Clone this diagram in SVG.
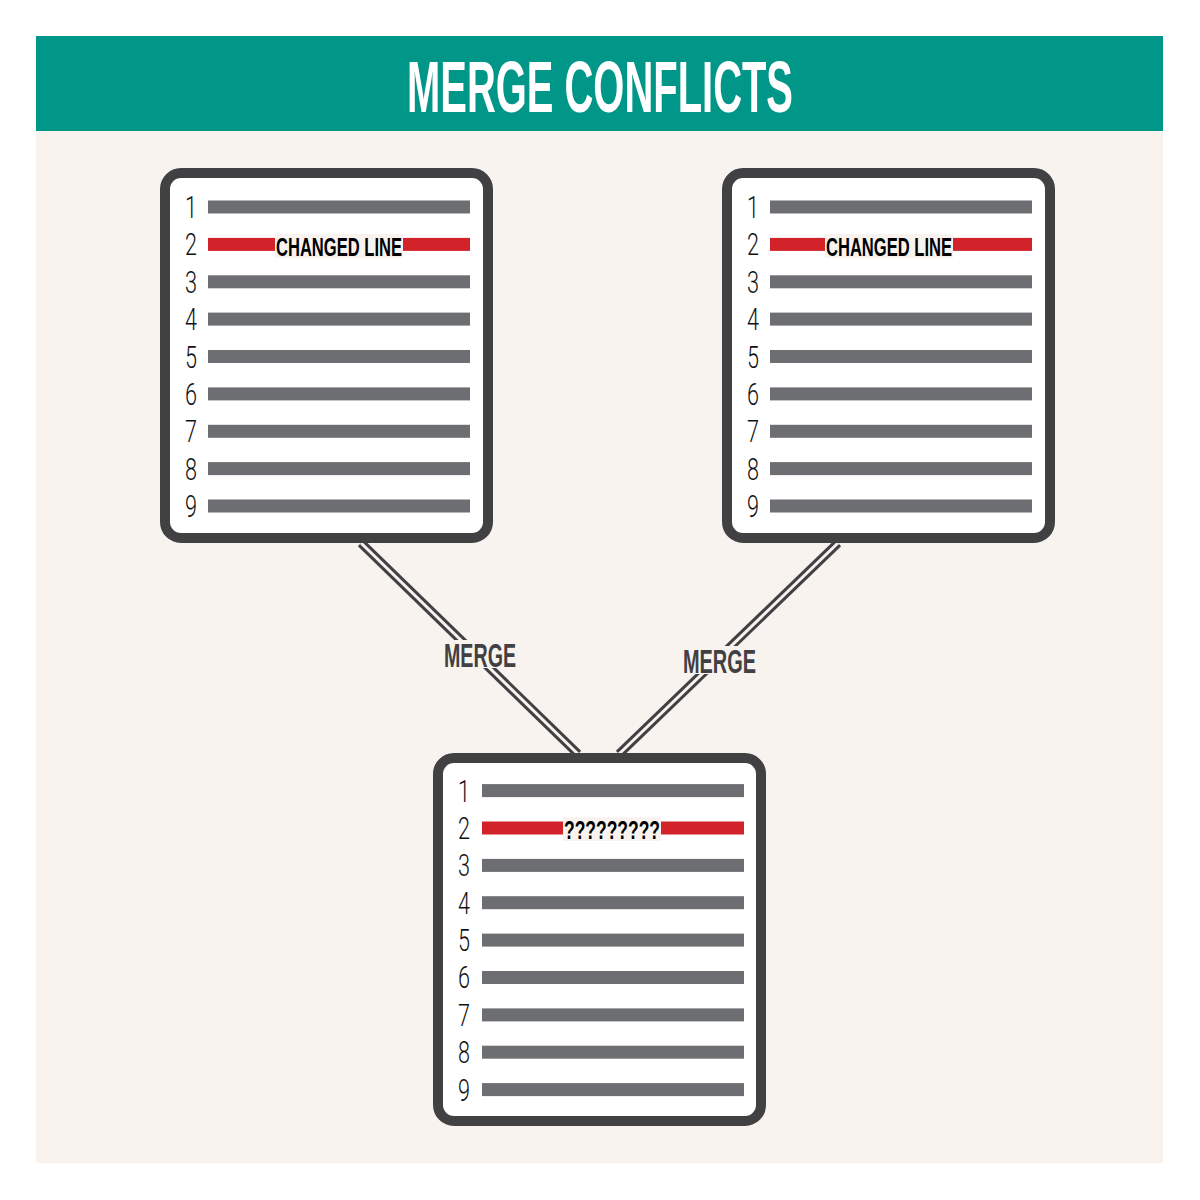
<svg xmlns="http://www.w3.org/2000/svg" width="1200" height="1200" viewBox="0 0 1200 1200">
<style>
.frame{fill:#ffffff;stroke:#414042;stroke-width:10}
.bar{fill:#6d6e71}
.red{fill:#d2232a}
.knock{fill:#f8f3ef}
.num{font-family:Roboto,"Liberation Sans",sans-serif;font-weight:300;font-size:32px;fill:#111;text-anchor:middle}
.lbl{font-family:"Liberation Sans",Arial,sans-serif;font-weight:bold;font-size:26px;fill:#000}
.merge{font-family:"Liberation Sans",Arial,sans-serif;font-weight:bold;font-size:34px;fill:#414042}
.wire-o{stroke:#414042;stroke-width:9;fill:none}
.wire-i{stroke:#f8f3ef;stroke-width:3;fill:none}
</style>
<defs>
<g id="rows">
<rect class="bar" x="0" y="-6.5" width="262" height="13"/>
<rect class="red" x="0" y="30.9" width="262" height="13"/>
<rect class="bar" x="0" y="68.3" width="262" height="13"/>
<rect class="bar" x="0" y="105.6" width="262" height="13"/>
<rect class="bar" x="0" y="143" width="262" height="13"/>
<rect class="bar" x="0" y="180.4" width="262" height="13"/>
<rect class="bar" x="0" y="217.8" width="262" height="13"/>
<rect class="bar" x="0" y="255.1" width="262" height="13"/>
<rect class="bar" x="0" y="292.5" width="262" height="13"/>
</g>
<g id="nums">
<text class="num" x="0" y="11" textLength="12" lengthAdjust="spacingAndGlyphs">1</text>
<text class="num" x="0" y="48.4" textLength="12" lengthAdjust="spacingAndGlyphs">2</text>
<text class="num" x="0" y="85.8" textLength="12" lengthAdjust="spacingAndGlyphs">3</text>
<text class="num" x="0" y="123.1" textLength="12" lengthAdjust="spacingAndGlyphs">4</text>
<text class="num" x="0" y="160.5" textLength="12" lengthAdjust="spacingAndGlyphs">5</text>
<text class="num" x="0" y="197.9" textLength="12" lengthAdjust="spacingAndGlyphs">6</text>
<text class="num" x="0" y="235.3" textLength="12" lengthAdjust="spacingAndGlyphs">7</text>
<text class="num" x="0" y="272.6" textLength="12" lengthAdjust="spacingAndGlyphs">8</text>
<text class="num" x="0" y="310" textLength="12" lengthAdjust="spacingAndGlyphs">9</text>
</g>
</defs>
<rect x="0" y="0" width="1200" height="1200" fill="#ffffff"/>
<rect x="36" y="131" width="1127" height="1032" fill="#f8f3ef"/>
<g id="header">
<rect x="36" y="36" width="1127" height="95" fill="#009688"/>
<text x="600" y="112" text-anchor="middle" font-family="'Liberation Sans',Arial,sans-serif" font-weight="bold" font-size="72" fill="#ffffff" textLength="386" lengthAdjust="spacingAndGlyphs">MERGE CONFLICTS</text>
</g>
<g id="connectors">
<line class="wire-o" x1="361" y1="543" x2="578" y2="754"/>
<line class="wire-i" x1="361" y1="543" x2="578" y2="754"/>
<line class="wire-o" x1="838" y1="543" x2="619" y2="754"/>
<line class="wire-i" x1="838" y1="543" x2="619" y2="754"/>
<rect class="knock" x="444" y="640" width="72" height="28"/>
<text class="merge" x="444" y="667" textLength="72" lengthAdjust="spacingAndGlyphs">MERGE</text>
<rect class="knock" x="686" y="646" width="70" height="28"/>
<text class="merge" x="683" y="673" textLength="73" lengthAdjust="spacingAndGlyphs">MERGE</text>
</g>
<g id="file-left">
<rect class="frame" x="165" y="173" width="323" height="365" rx="16"/>
<use href="#rows" x="208" y="207"/>
<use href="#nums" x="191" y="207"/>
<rect class="knock" x="275" y="234" width="128" height="24"/>
<text class="lbl" x="276" y="256" textLength="126" lengthAdjust="spacingAndGlyphs">CHANGED LINE</text>
</g>
<g id="file-right">
<rect class="frame" x="727" y="173" width="323" height="365" rx="16"/>
<use href="#rows" x="770" y="207"/>
<use href="#nums" x="753" y="207"/>
<rect class="knock" x="825" y="234" width="128" height="24"/>
<text class="lbl" x="826" y="256" textLength="126" lengthAdjust="spacingAndGlyphs">CHANGED LINE</text>
</g>
<g id="file-merged">
<rect class="frame" x="438" y="758" width="323" height="363" rx="16"/>
<use href="#rows" x="482" y="790.6"/>
<use href="#nums" x="464" y="790.6"/>
<rect class="knock" x="563" y="817" width="98" height="24"/>
<text class="lbl" x="564" y="839" textLength="96" lengthAdjust="spacingAndGlyphs">?????????</text>
</g>
</svg>
